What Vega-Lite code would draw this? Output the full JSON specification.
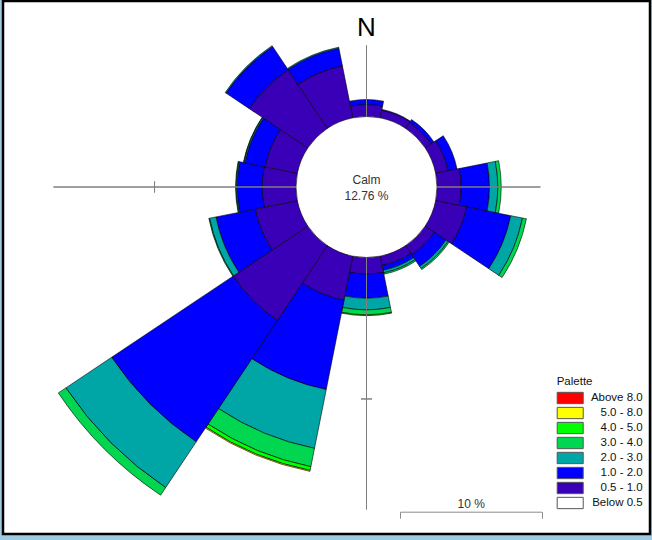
{
  "$schema": "https://vega.github.io/schema/vega-lite/v6.json",
  "width": 647,
  "height": 533,
  "autosize": {"type": "none"},
  "padding": {"left": 3, "top": 1, "right": 2, "bottom": 6},
  "background": "#9ccbe3",
  "config": {
    "view": {"stroke": "#000", "strokeWidth": 2.5, "fill": "#ffffff"},
    "font": "Liberation Sans"
  },
  "datasets": {
    "wind": [
      {"dir": "N", "deg": 0, "cls": "0.5 - 1.0", "pct": 0.85},
      {"dir": "N", "deg": 0, "cls": "1.0 - 2.0", "pct": 0.35},
      {"dir": "NNE", "deg": 22.5, "cls": "0.5 - 1.0", "pct": 0.55},
      {"dir": "NNE", "deg": 22.5, "cls": "1.0 - 2.0", "pct": 0.06},
      {"dir": "NE", "deg": 45, "cls": "0.5 - 1.0", "pct": 0.5},
      {"dir": "NE", "deg": 45, "cls": "1.0 - 2.0", "pct": 0.25},
      {"dir": "ENE", "deg": 67.5, "cls": "0.5 - 1.0", "pct": 0.9},
      {"dir": "ENE", "deg": 67.5, "cls": "1.0 - 2.0", "pct": 0.64},
      {"dir": "E", "deg": 90, "cls": "0.5 - 1.0", "pct": 1.71},
      {"dir": "E", "deg": 90, "cls": "1.0 - 2.0", "pct": 2.0},
      {"dir": "E", "deg": 90, "cls": "2.0 - 3.0", "pct": 0.59},
      {"dir": "E", "deg": 90, "cls": "3.0 - 4.0", "pct": 0.24},
      {"dir": "ESE", "deg": 112.5, "cls": "0.5 - 1.0", "pct": 2.24},
      {"dir": "ESE", "deg": 112.5, "cls": "1.0 - 2.0", "pct": 3.17},
      {"dir": "ESE", "deg": 112.5, "cls": "2.0 - 3.0", "pct": 0.85},
      {"dir": "ESE", "deg": 112.5, "cls": "3.0 - 4.0", "pct": 0.28},
      {"dir": "SE", "deg": 135, "cls": "0.5 - 1.0", "pct": 0.78},
      {"dir": "SE", "deg": 135, "cls": "1.0 - 2.0", "pct": 0.99},
      {"dir": "SE", "deg": 135, "cls": "2.0 - 3.0", "pct": 0.18},
      {"dir": "SE", "deg": 135, "cls": "3.0 - 4.0", "pct": 0.09},
      {"dir": "SSE", "deg": 157.5, "cls": "0.5 - 1.0", "pct": 0.67},
      {"dir": "SSE", "deg": 157.5, "cls": "1.0 - 2.0", "pct": 0.35},
      {"dir": "SSE", "deg": 157.5, "cls": "2.0 - 3.0", "pct": 0.18},
      {"dir": "SSE", "deg": 157.5, "cls": "3.0 - 4.0", "pct": 0.1},
      {"dir": "S", "deg": 180, "cls": "0.5 - 1.0", "pct": 1.17},
      {"dir": "S", "deg": 180, "cls": "1.0 - 2.0", "pct": 1.71},
      {"dir": "S", "deg": 180, "cls": "2.0 - 3.0", "pct": 0.82},
      {"dir": "S", "deg": 180, "cls": "3.0 - 4.0", "pct": 0.35},
      {"dir": "S", "deg": 180, "cls": "4.0 - 5.0", "pct": 0.06},
      {"dir": "SSW", "deg": 202.5, "cls": "0.5 - 1.0", "pct": 3.18},
      {"dir": "SSW", "deg": 202.5, "cls": "1.0 - 2.0", "pct": 6.43},
      {"dir": "SSW", "deg": 202.5, "cls": "2.0 - 3.0", "pct": 4.24},
      {"dir": "SSW", "deg": 202.5, "cls": "3.0 - 4.0", "pct": 1.32},
      {"dir": "SSW", "deg": 202.5, "cls": "4.0 - 5.0", "pct": 0.27},
      {"dir": "SSW", "deg": 202.5, "cls": "5.0 - 8.0", "pct": 0.07},
      {"dir": "SW", "deg": 225, "cls": "0.5 - 1.0", "pct": 6.36},
      {"dir": "SW", "deg": 225, "cls": "1.0 - 2.0", "pct": 10.32},
      {"dir": "SW", "deg": 225, "cls": "2.0 - 3.0", "pct": 3.89},
      {"dir": "SW", "deg": 225, "cls": "3.0 - 4.0", "pct": 0.64},
      {"dir": "WSW", "deg": 247.5, "cls": "0.5 - 1.0", "pct": 3.04},
      {"dir": "WSW", "deg": 247.5, "cls": "1.0 - 2.0", "pct": 2.83},
      {"dir": "WSW", "deg": 247.5, "cls": "2.0 - 3.0", "pct": 0.46},
      {"dir": "WSW", "deg": 247.5, "cls": "3.0 - 4.0", "pct": 0.05},
      {"dir": "W", "deg": 270, "cls": "0.5 - 1.0", "pct": 2.39},
      {"dir": "W", "deg": 270, "cls": "1.0 - 2.0", "pct": 1.77},
      {"dir": "W", "deg": 270, "cls": "2.0 - 3.0", "pct": 0.07},
      {"dir": "W", "deg": 270, "cls": "3.0 - 4.0", "pct": 0.04},
      {"dir": "WNW", "deg": 292.5, "cls": "0.5 - 1.0", "pct": 2.33},
      {"dir": "WNW", "deg": 292.5, "cls": "1.0 - 2.0", "pct": 1.45},
      {"dir": "WNW", "deg": 292.5, "cls": "2.0 - 3.0", "pct": 0.08},
      {"dir": "WNW", "deg": 292.5, "cls": "3.0 - 4.0", "pct": 0.03},
      {"dir": "NW", "deg": 315, "cls": "0.5 - 1.0", "pct": 4.98},
      {"dir": "NW", "deg": 315, "cls": "1.0 - 2.0", "pct": 1.98},
      {"dir": "NW", "deg": 315, "cls": "2.0 - 3.0", "pct": 0.07},
      {"dir": "NNW", "deg": 337.5, "cls": "0.5 - 1.0", "pct": 3.75},
      {"dir": "NNW", "deg": 337.5, "cls": "1.0 - 2.0", "pct": 1.27},
      {"dir": "NNW", "deg": 337.5, "cls": "2.0 - 3.0", "pct": 0.07}
    ],
    "arms": [
      {"dir": "N", "deg": 0, "len": 5.02},
      {"dir": "E", "deg": 90, "len": 7.31},
      {"dir": "S", "deg": 180, "len": 17.81},
      {"dir": "W", "deg": 270, "len": 17.14}
    ],
    "ticks": [
      {"dir": "S", "deg": 180, "pct": 10},
      {"dir": "W", "deg": 270, "pct": 10}
    ]
  },
  "layer": [
    {
      "encoding": {
        "x": {"datum": 0, "type": "quantitative", "scale": {"domain": [-25.689, 20.035], "range": [0, 647]}, "axis": null},
        "y": {"datum": 0, "type": "quantitative", "scale": {"domain": [-24.523, 13.145], "range": [533, 0]}, "axis": null}
      },
      "layer": [
        {
          "data": {"name": "wind"},
          "transform": [
            {"stack": "pct", "groupby": ["deg"], "sort": [{"field": "cls", "order": "ascending"}], "as": ["r0", "r1"]}
          ],
          "mark": {"type": "arc", "thetaOffset": -0.19635, "theta2Offset": 0.19635, "stroke": "#000000", "strokeWidth": 0.6},
          "encoding": {
            "theta": {"field": "deg", "type": "quantitative", "stack": null, "scale": {"type": "linear", "domain": [0, 360], "range": [0, 6.283185307179586]}},
            "theta2": {"field": "deg"},
            "radius": {"field": "r1", "type": "quantitative", "scale": {"type": "linear", "domain": [0, 10], "range": [70.5, 212], "zero": false}},
            "radius2": {"field": "r0"},
            "color": {
              "field": "cls",
              "type": "nominal",
              "scale": {
                "domain": ["Above 8.0", "5.0 - 8.0", "4.0 - 5.0", "3.0 - 4.0", "2.0 - 3.0", "1.0 - 2.0", "0.5 - 1.0", "Below 0.5"],
                "range": ["#ff0000", "#ffff00", "#00ff00", "#00d64f", "#00a6a6", "#0000ff", "#3a00b8", "#ffffff"]
              },
              "legend": {
                "orient": "none",
                "legendX": 553.7,
                "legendY": 375,
                "title": "Palette",
                "titleFont": "Liberation Sans",
                "titleFontSize": 11.5,
                "titleFontWeight": "normal",
                "titleColor": "#111111",
                "titlePadding": 4,
                "symbolType": "M-2.3,-1H2.3V1H-2.3Z",
                "symbolSize": 128,
                "symbolStrokeColor": "#555555",
                "symbolStrokeWidth": 1,
                "symbolOffset": 7,
                "labelAlign": "right",
                "labelOffset": 66,
                "labelFont": "Liberation Sans",
                "labelFontSize": 11.5,
                "labelColor": "#111111",
                "labelLimit": 200,
                "rowPadding": -3,
                "padding": 0
              }
            }
          }
        },
        {
          "data": {"name": "arms"},
          "mark": {"type": "arc", "filled": false, "stroke": "#7f7f7f", "strokeWidth": 1},
          "encoding": {
            "theta": {"field": "deg", "type": "quantitative", "stack": null},
            "theta2": {"field": "deg"},
            "radius": {"field": "len", "type": "quantitative"},
            "radius2": {"datum": 0}
          }
        },
        {
          "data": {"name": "ticks"},
          "mark": {"type": "arc", "filled": false, "stroke": "#7f7f7f", "strokeWidth": 1, "thetaOffset": -0.026, "theta2Offset": 0.026},
          "encoding": {
            "theta": {"field": "deg", "type": "quantitative", "stack": null},
            "theta2": {"field": "deg"},
            "radius": {"field": "pct", "type": "quantitative"},
            "radius2": {"field": "pct"}
          }
        },
        {
          "data": {"values": [{"label": "N", "deg": 0}]},
          "mark": {"type": "text", "fontSize": 26, "color": "#000000", "align": "center", "baseline": "middle"},
          "encoding": {
            "text": {"field": "label"},
            "theta": {"field": "deg", "type": "quantitative", "stack": null},
            "radius": {"datum": 6.25}
          }
        },
        {
          "data": {"values": [{"label": "Calm"}]},
          "mark": {"type": "text", "fontSize": 12, "color": "#333333", "align": "center", "baseline": "middle", "lineHeight": 16, "dy": -7},
          "encoding": {
            "text": {"value": ["Calm", "12.76 %"]}
          }
        }
      ]
    },
    {
      "data": {"values": [{"pct": 10}]},
      "mark": {"type": "point", "opacity": 0},
      "encoding": {
        "x": {
          "field": "pct",
          "type": "quantitative",
          "scale": {"domain": [0, 10], "range": [397, 538.5]},
          "axis": {
            "orient": "bottom",
            "offset": -22.3,
            "values": [0, 10],
            "labels": false,
            "grid": false,
            "tickSize": 6.5,
            "tickWidth": 1,
            "tickColor": "#8c8c8c",
            "domainColor": "#8c8c8c",
            "domainWidth": 1,
            "title": "10 %",
            "titleY": -4,
            "titleBaseline": "alphabetic",
            "titleFont": "Liberation Sans",
            "titleFontSize": 12,
            "titleFontWeight": "normal",
            "titleColor": "#333333",
            "encode": {"ticks": {"update": {"y": {"value": -6.5}}}}
          }
        }
      }
    }
  ],
  "resolve": {"scale": {"x": "independent"}}
}
